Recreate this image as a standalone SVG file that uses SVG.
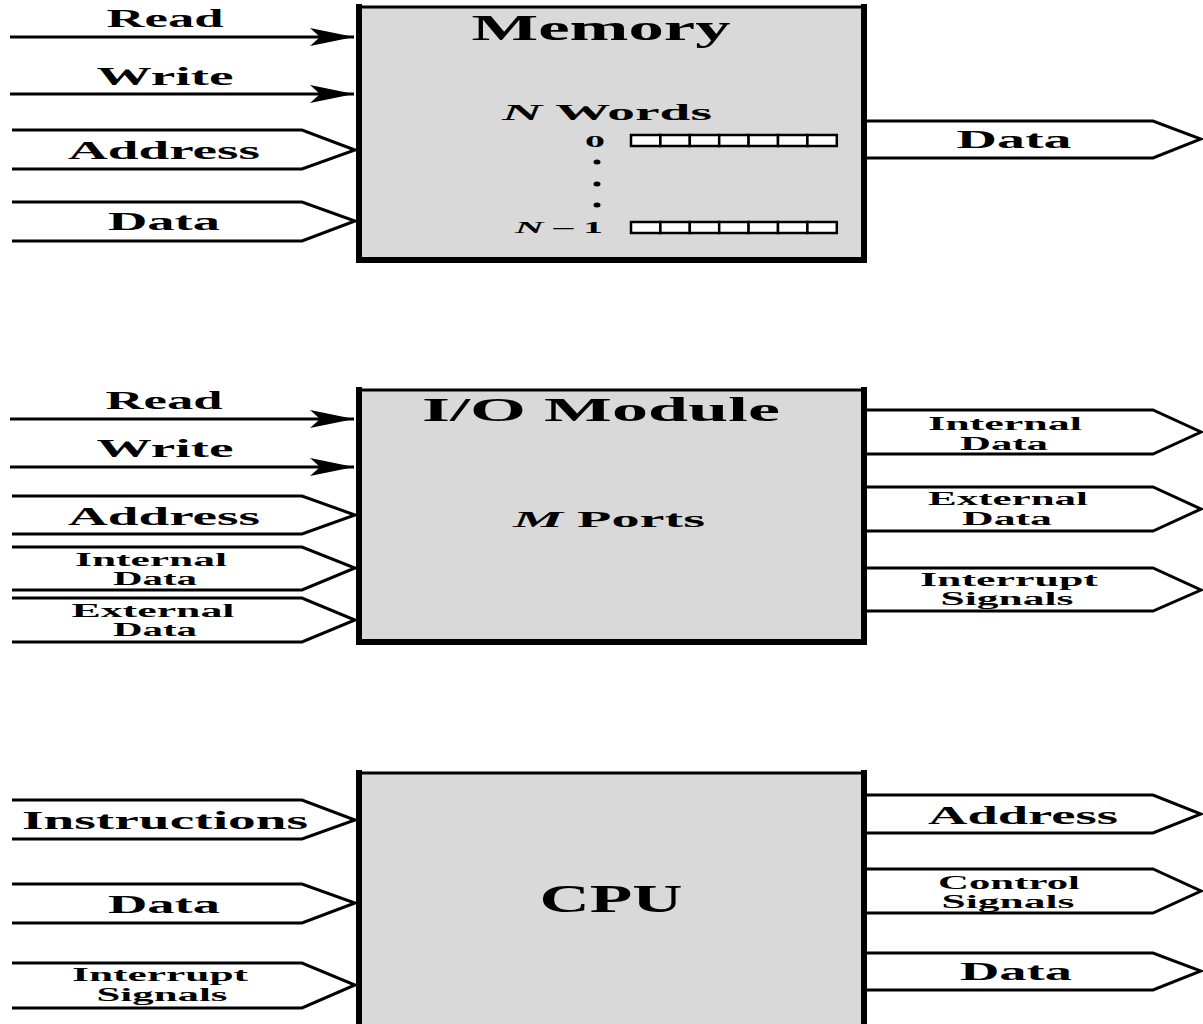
<svg xmlns="http://www.w3.org/2000/svg" width="1203" height="1024" viewBox="0 0 1203 1024">
<style>
.box{fill:#d9d9d9;stroke:none}
.edge{fill:none;stroke:#000;stroke-linecap:square}
.bus{fill:none;stroke:#000;stroke-width:3;stroke-linejoin:miter}
.line{fill:none;stroke:#000;stroke-width:3}
.t{font-family:"Liberation Serif","Times New Roman",serif;font-weight:bold;fill:#000;text-anchor:middle}
.big{font-size:25px}
.sm{font-size:18px}
.ttl{font-size:36px}
.cell{fill:#fff;stroke:#000;stroke-width:2.5}
</style>
<defs>
<marker id="ah" markerWidth="46" markerHeight="20" refX="44" refY="9" orient="auto" markerUnits="userSpaceOnUse">
<path d="M44,9 L0,0 L10,9 L0,18 Z" fill="#000"/>
</marker>
</defs>

<g id="memory">
<rect class="box" x="359" y="7" width="505" height="253"/>
<path class="edge" d="M359,7 H864" stroke-width="3"/>
<path class="edge" d="M359,7 V260 H864 V7" stroke-width="6"/>
<text class="t ttl" transform="matrix(2 0 0 1 601 0)" x="0" y="40" textLength="129.5" lengthAdjust="spacingAndGlyphs">Memory</text>
<text class="t" transform="matrix(2 0 0 1 607 0)" x="0" y="120" font-size="23" textLength="105" lengthAdjust="spacingAndGlyphs"><tspan font-style="italic">N</tspan> Words</text>
<text class="t" transform="matrix(2 0 0 1 595 0)" x="0" y="147" font-size="17" textLength="10" lengthAdjust="spacingAndGlyphs">0</text>
<ellipse cx="597" cy="162" rx="3.5" ry="2.5"/>
<ellipse cx="597" cy="184" rx="3.5" ry="2.5"/>
<ellipse cx="597" cy="205" rx="3.5" ry="2.5"/>
<text class="t" transform="matrix(2 0 0 1 559 0)" x="0" y="233" font-size="17" textLength="44" lengthAdjust="spacingAndGlyphs"><tspan font-style="italic">N</tspan> – 1</text>
<g id="word0">
<rect class="cell" x="631" y="135" width="29.4" height="11"/>
<rect class="cell" x="660.4" y="135" width="29.4" height="11"/>
<rect class="cell" x="689.8" y="135" width="29.4" height="11"/>
<rect class="cell" x="719.2" y="135" width="29.4" height="11"/>
<rect class="cell" x="748.6" y="135" width="29.4" height="11"/>
<rect class="cell" x="778" y="135" width="29.4" height="11"/>
<rect class="cell" x="807.4" y="135" width="29.4" height="11"/>
</g>
<g id="wordN1">
<rect class="cell" x="631" y="222" width="29.4" height="11"/>
<rect class="cell" x="660.4" y="222" width="29.4" height="11"/>
<rect class="cell" x="689.8" y="222" width="29.4" height="11"/>
<rect class="cell" x="719.2" y="222" width="29.4" height="11"/>
<rect class="cell" x="748.6" y="222" width="29.4" height="11"/>
<rect class="cell" x="778" y="222" width="29.4" height="11"/>
<rect class="cell" x="807.4" y="222" width="29.4" height="11"/>
</g>
</g>

<g id="io-module">
<rect class="box" x="359" y="390" width="505" height="252"/>
<path class="edge" d="M359,390 H864" stroke-width="3"/>
<path class="edge" d="M359,390 V642 H864 V390" stroke-width="6"/>
<text class="t" transform="matrix(2 0 0 1 601 0)" x="0" y="421" font-size="34" textLength="179" lengthAdjust="spacingAndGlyphs">I/O Module</text>
<text class="t" transform="matrix(2 0 0 1 609 0)" x="0" y="527" font-size="23" textLength="96" lengthAdjust="spacingAndGlyphs"><tspan font-style="italic">M</tspan> Ports</text>
</g>

<g id="cpu">
<rect class="box" x="359" y="773" width="505" height="260"/>
<path class="edge" d="M359,773 H864" stroke-width="3"/>
<path class="edge" d="M359,1030 V773 M864,773 V1030" stroke-width="6"/>
<text class="t" transform="matrix(1.75 0 0 1 611 0)" x="0" y="912" font-size="40" textLength="81.7" lengthAdjust="spacingAndGlyphs">CPU</text>
</g>

<g id="connectors">
<path class="line" d="M10,37 H354" marker-end="url(#ah)"/>
<path class="line" d="M10,94 H354" marker-end="url(#ah)"/>
<polyline class="bus" points="12,130 302,130 355,150 302,169 12,169"/>
<polyline class="bus" points="12,202 302,202 355,221 302,241 12,241"/>
<polyline class="bus" points="866,121 1153,121 1201,139 1153,158 866,158"/>
<path class="line" d="M10,419 H354" marker-end="url(#ah)"/>
<path class="line" d="M10,467 H354" marker-end="url(#ah)"/>
<polyline class="bus" points="12,496 302,496 355,515 302,534 12,534"/>
<polyline class="bus" points="12,547 302,547 355,568 302,590 12,590"/>
<polyline class="bus" points="12,598 302,598 355,620 302,642 12,642"/>
<polyline class="bus" points="866,410 1153,410 1201,432 1153,454 866,454"/>
<polyline class="bus" points="866,487 1153,487 1201,509 1153,531 866,531"/>
<polyline class="bus" points="866,568 1153,568 1201,590 1153,611 866,611"/>
<polyline class="bus" points="12,800 302,800 355,820 302,839 12,839"/>
<polyline class="bus" points="12,884 302,884 355,903 302,923 12,923"/>
<polyline class="bus" points="12,963 302,963 355,985 302,1008 12,1008"/>
<polyline class="bus" points="866,795 1153,795 1201,814 1153,833 866,833"/>
<polyline class="bus" points="866,869 1153,869 1201,891 1153,913 866,913"/>
<polyline class="bus" points="866,953 1153,953 1201,971 1153,990 866,990"/>
</g>

<g id="labels">
<text class="t big" transform="matrix(2 0 0 1 165 0)" x="0" y="27" textLength="58.5" lengthAdjust="spacingAndGlyphs">Read</text>
<text class="t big" transform="matrix(2 0 0 1 165 0)" x="0" y="85" textLength="68.5" lengthAdjust="spacingAndGlyphs">Write</text>
<text class="t big" transform="matrix(2 0 0 1 164 0)" x="0" y="159" textLength="96" lengthAdjust="spacingAndGlyphs">Address</text>
<text class="t big" transform="matrix(2 0 0 1 164 0)" x="0" y="230" textLength="56" lengthAdjust="spacingAndGlyphs">Data</text>
<text class="t big" transform="matrix(2 0 0 1 1014 0)" x="0" y="148" textLength="57.5" lengthAdjust="spacingAndGlyphs">Data</text>

<text class="t big" transform="matrix(2 0 0 1 164 0)" x="0" y="409" textLength="58.5" lengthAdjust="spacingAndGlyphs">Read</text>
<text class="t big" transform="matrix(2 0 0 1 165 0)" x="0" y="457" textLength="68.5" lengthAdjust="spacingAndGlyphs">Write</text>
<text class="t big" transform="matrix(2 0 0 1 164 0)" x="0" y="525" textLength="96" lengthAdjust="spacingAndGlyphs">Address</text>
<text class="t sm" transform="matrix(2 0 0 1 151 0)" x="0" y="566" textLength="76" lengthAdjust="spacingAndGlyphs">Internal</text>
<text class="t sm" transform="matrix(2 0 0 1 155 0)" x="0" y="585" textLength="42" lengthAdjust="spacingAndGlyphs">Data</text>
<text class="t sm" transform="matrix(2 0 0 1 153 0)" x="0" y="617" textLength="81.5" lengthAdjust="spacingAndGlyphs">External</text>
<text class="t sm" transform="matrix(2 0 0 1 155 0)" x="0" y="636" textLength="42" lengthAdjust="spacingAndGlyphs">Data</text>
<text class="t sm" transform="matrix(2 0 0 1 1005 0)" x="0" y="430" textLength="77" lengthAdjust="spacingAndGlyphs">Internal</text>
<text class="t sm" transform="matrix(2 0 0 1 1004 0)" x="0" y="450" textLength="44" lengthAdjust="spacingAndGlyphs">Data</text>
<text class="t sm" transform="matrix(2 0 0 1 1008 0)" x="0" y="505" textLength="80" lengthAdjust="spacingAndGlyphs">External</text>
<text class="t sm" transform="matrix(2 0 0 1 1007 0)" x="0" y="525" textLength="45" lengthAdjust="spacingAndGlyphs">Data</text>
<text class="t sm" transform="matrix(2 0 0 1 1009 0)" x="0" y="586" textLength="89" lengthAdjust="spacingAndGlyphs">Interrupt</text>
<text class="t sm" transform="matrix(2 0 0 1 1007 0)" x="0" y="605" textLength="66.5" lengthAdjust="spacingAndGlyphs">Signals</text>

<text class="t big" transform="matrix(2 0 0 1 165 0)" x="0" y="829" textLength="143" lengthAdjust="spacingAndGlyphs">Instructions</text>
<text class="t big" transform="matrix(2 0 0 1 164 0)" x="0" y="913" textLength="56" lengthAdjust="spacingAndGlyphs">Data</text>
<text class="t sm" transform="matrix(2 0 0 1 160 0)" x="0" y="981" textLength="88" lengthAdjust="spacingAndGlyphs">Interrupt</text>
<text class="t sm" transform="matrix(2 0 0 1 162 0)" x="0" y="1001" textLength="65.5" lengthAdjust="spacingAndGlyphs">Signals</text>
<text class="t big" transform="matrix(2 0 0 1 1023 0)" x="0" y="824" textLength="95" lengthAdjust="spacingAndGlyphs">Address</text>
<text class="t sm" transform="matrix(2 0 0 1 1009 0)" x="0" y="889" textLength="71" lengthAdjust="spacingAndGlyphs">Control</text>
<text class="t sm" transform="matrix(2 0 0 1 1008 0)" x="0" y="908" textLength="66.5" lengthAdjust="spacingAndGlyphs">Signals</text>
<text class="t big" transform="matrix(2 0 0 1 1016 0)" x="0" y="980" textLength="56" lengthAdjust="spacingAndGlyphs">Data</text>
</g>
</svg>
